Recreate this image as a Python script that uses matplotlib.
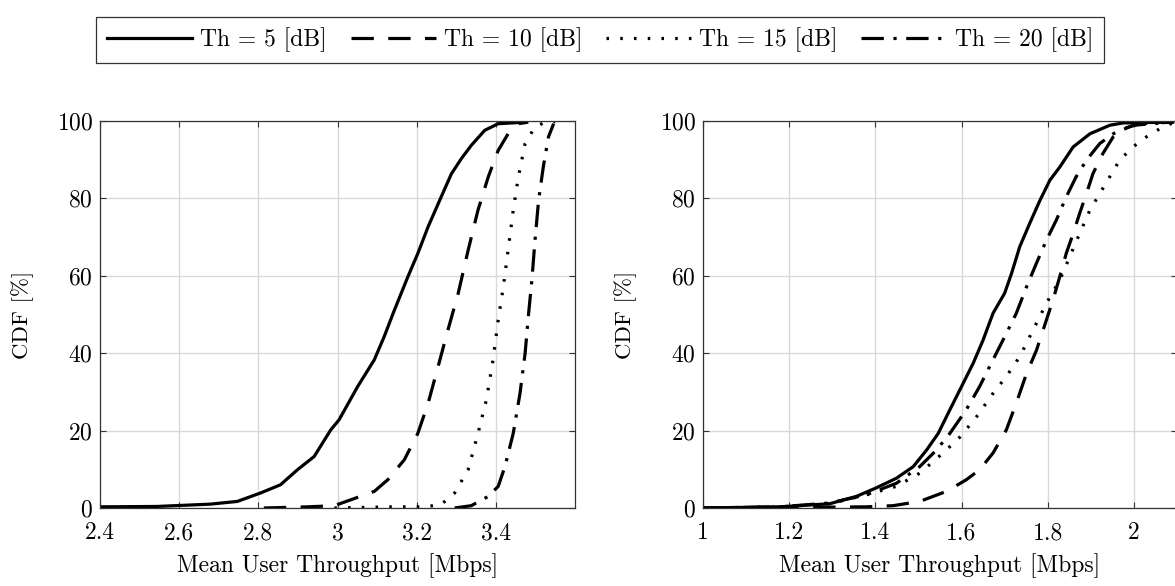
import numpy as np
import matplotlib
matplotlib.use('Agg')
import matplotlib.pyplot as plt
from matplotlib.ticker import FormatStrFormatter

plt.rcParams['font.family'] = ['cmr10', 'DejaVu Serif']
plt.rcParams['mathtext.fontset'] = 'cm'
plt.rcParams['axes.formatter.use_mathtext'] = True

# ---- data (x in Mbps, y = CDF in %) ----
labels = ['Th = 5 [dB]', 'Th = 10 [dB]', 'Th = 15 [dB]', 'Th = 20 [dB]']

# left panel
l_th5_x = [2.40, 2.544, 2.679, 2.747, 2.806, 2.856, 2.899, 2.941, 2.983, 3.004, 3.051, 3.093,
           3.118, 3.144, 3.178, 3.203, 3.229, 3.262, 3.288, 3.313, 3.338, 3.372, 3.406, 3.474]
l_th5_y = [0.3, 0.4, 1.0, 1.7, 3.9, 6.0, 9.9, 13.3, 20.2, 22.8, 31.4, 38.3,
           44.3, 51.2, 59.8, 65.8, 72.7, 80.4, 86.4, 90.3, 93.7, 97.6, 99.3, 99.7]
l_th10_x = [2.814, 2.924, 2.992, 3.033, 3.093, 3.127, 3.169, 3.203, 3.229, 3.254, 3.279, 3.305,
            3.330, 3.355, 3.381, 3.406, 3.431, 3.457, 3.482]
l_th10_y = [0.0, 0.3, 0.6, 2.1, 4.3, 7.3, 12.5, 19.3, 27.1, 36.5, 46.0, 55.5,
            66.6, 77.0, 85.6, 92.4, 96.7, 99.3, 99.7]
l_th15_x = [2.992, 3.136, 3.220, 3.262, 3.296, 3.330, 3.355, 3.376, 3.393, 3.406, 3.419, 3.431,
            3.444, 3.457, 3.474, 3.499, 3.525, 3.550]
l_th15_y = [0.0, 0.3, 0.3, 0.9, 3.9, 9.9, 19.3, 27.9, 38.3, 48.6, 57.2, 66.6,
            77.0, 85.6, 94.2, 98.5, 99.7, 99.8]
l_th20_x = [3.296, 3.338, 3.381, 3.406, 3.423, 3.444, 3.461, 3.474, 3.482, 3.491, 3.499, 3.508,
            3.520, 3.533, 3.546]
l_th20_y = [0.0, 0.6, 3.0, 5.6, 10.7, 19.3, 29.6, 40.0, 49.4, 58.9, 69.2, 79.5,
            88.2, 95.9, 99.3]

# right panel
r_th5_x = [1.0, 1.178, 1.294, 1.356, 1.402, 1.449, 1.488, 1.519, 1.546, 1.573, 1.596, 1.627,
           1.650, 1.673, 1.700, 1.716, 1.735, 1.758, 1.782, 1.805, 1.828, 1.859, 1.898, 1.944,
           1.975, 2.09]
r_th5_y = [0.0, 0.3, 1.1, 3.0, 5.2, 7.7, 10.7, 15.0, 19.3, 25.4, 30.5, 37.4,
           43.4, 50.3, 55.5, 60.6, 67.5, 73.5, 79.5, 84.7, 88.1, 93.3, 96.7, 98.9,
           99.5, 99.7]
r_th10_x = [1.0, 1.379, 1.441, 1.503, 1.565, 1.611, 1.642, 1.673, 1.704, 1.727, 1.751, 1.774,
            1.797, 1.812, 1.828, 1.843, 1.859, 1.874, 1.890, 1.905, 1.928, 1.952, 1.975, 2.014,
            2.09]
r_th10_y = [0.0, 0.3, 0.6, 1.7, 4.3, 7.3, 9.9, 14.2, 20.2, 27.1, 34.8, 40.8,
            48.6, 53.7, 59.8, 65.8, 70.9, 76.1, 81.3, 86.4, 91.6, 95.9, 98.0, 99.3,
            99.7]
r_th15_x = [1.0, 1.178, 1.294, 1.379, 1.449, 1.503, 1.557, 1.596, 1.635, 1.673, 1.704, 1.735,
            1.766, 1.797, 1.828, 1.851, 1.874, 1.898, 1.921, 1.944, 1.967, 1.998, 2.029, 2.060,
            2.09]
r_th15_y = [0.0, 0.3, 1.1, 3.4, 5.6, 9.0, 14.2, 18.3, 23.6, 29.6, 34.0, 39.1,
            46.0, 52.9, 58.9, 64.9, 70.9, 77.0, 81.3, 85.6, 89.9, 93.3, 95.9, 98.0,
            99.5]
r_th20_x = [1.0, 1.178, 1.294, 1.379, 1.449, 1.503, 1.542, 1.573, 1.611, 1.642, 1.673, 1.704,
            1.727, 1.751, 1.774, 1.797, 1.820, 1.843, 1.866, 1.890, 1.921, 1.952, 1.998, 2.09]
r_th20_y = [0.0, 0.3, 1.3, 3.4, 6.4, 10.7, 15.0, 19.3, 25.4, 31.4, 38.3, 45.1,
            50.3, 57.2, 63.3, 69.2, 74.4, 80.4, 85.6, 89.9, 94.2, 96.7, 98.9, 99.7]

left_xticks = [2.4, 2.6, 2.8, 3.0, 3.2, 3.4]
right_xticks = [1.0, 1.2, 1.4, 1.6, 1.8, 2.0]
yticks = [0, 20, 40, 60, 80, 100]

styles = ['-', (0, (7, 4.5)), (0, (0.8, 3.5)), (0, (7, 3, 1, 3))]

fig = plt.figure(figsize=(11.75, 5.86), dpi=100)
W, H = 1175.0, 586.0
ax1 = fig.add_axes([100 / W, 78 / H, 475 / W, 387 / H])
ax2 = fig.add_axes([703 / W, 78 / H, 474 / W, 387 / H])

panels = [
    (ax1, [(l_th5_x, l_th5_y), (l_th10_x, l_th10_y), (l_th15_x, l_th15_y), (l_th20_x, l_th20_y)],
     left_xticks, (2.4, 3.6)),
    (ax2, [(r_th5_x, r_th5_y), (r_th10_x, r_th10_y), (r_th15_x, r_th15_y), (r_th20_x, r_th20_y)],
     right_xticks, (1.0, 2.1)),
]

for ax, curves, xt, xl in panels:
    for (xs, ys), ls, lab in zip(curves, styles, labels):
        ax.plot(xs, ys, color='black', linestyle=ls, linewidth=2.3, label=lab)
    ax.set_xlim(*xl)
    ax.set_ylim(0, 100)
    ax.set_xticks(xt)
    ax.set_yticks(yticks)
    ax.xaxis.set_major_formatter(FormatStrFormatter('%g'))
    ax.grid(True, color='#d9d9d9', linewidth=1.0)
    ax.set_axisbelow(True)
    ax.tick_params(direction='in', top=True, right=True, length=4, width=0.8,
                   labelsize=17, color='#333333')
    ax.tick_params(axis='x', pad=10)
    ax.tick_params(axis='y', pad=5)
    for sp in ax.spines.values():
        sp.set_color('#333333')
        sp.set_linewidth(0.9)
    ax.set_xlabel('Mean User Throughput [Mbps]', fontsize=17, labelpad=7)
    ax.set_ylabel('CDF [%]', fontsize=16.5, labelpad=16)

handles, labs = ax1.get_legend_handles_labels()
leg = fig.legend(handles, labs, loc='center', bbox_to_anchor=(600 / W, 1 - 40 / H), ncol=4,
                 fontsize=17, handlelength=3.6, handletextpad=0.35, columnspacing=1.0,
                 frameon=True, fancybox=False, edgecolor='black', borderpad=0.45)
leg.get_frame().set_linewidth(0.9)

fig.savefig('out.png', dpi=100)
